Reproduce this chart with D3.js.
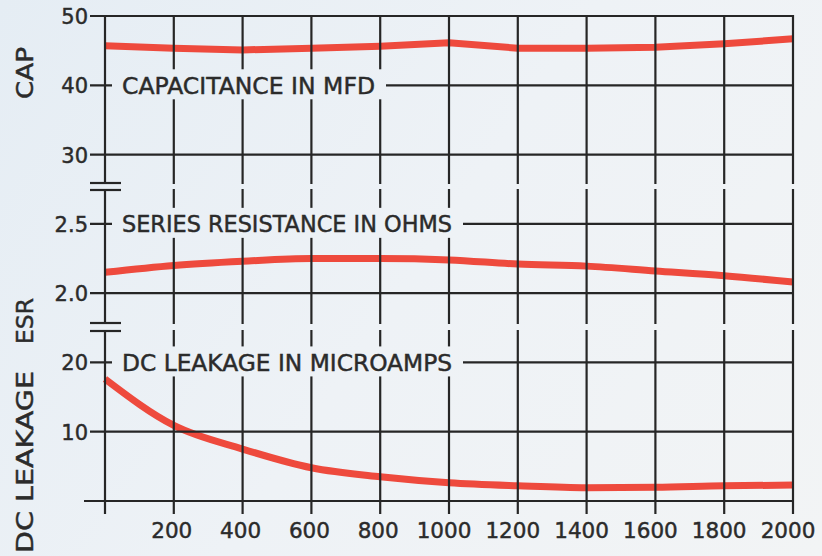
<!DOCTYPE html>
<html>
<head>
    <script src="https://cdnjs.cloudflare.com/ajax/libs/d3/7.8.5/d3.min.js"></script>
    <style>
        body {
            margin: 0;
            padding: 0;
            background: #eef2f6;
            overflow: hidden;
        }
        svg text {
            font-family: "DejaVu Sans", sans-serif;
            fill: #2b2b2b;
            stroke: #2b2b2b;
            stroke-width: 0.45px;
        }
    </style>
</head>
<body>
    <svg id="chart" width="822" height="556"></svg>

    <script>
        // frequency in cps (x)
        const xValues = [0, 200, 400, 600, 800, 1000, 1200, 1400, 1600, 1800, 2000];
        const xTickLabels = ["", "200", "400", "600", "800", "1000", "1200", "1400", "1600", "1800", "2000"];

        const capValues  = [45.7, 45.35, 45.1, 45.35, 45.65, 46.15, 45.35, 45.35, 45.5, 46.0, 46.7];
        const esrValues  = [2.15, 2.20, 2.23, 2.25, 2.25, 2.24, 2.21, 2.195, 2.16, 2.125, 2.08];
        const leakValues = [17.6, 10.9, 7.5, 4.8, 3.5, 2.64, 2.2, 1.92, 1.98, 2.2, 2.3];

        const capTicks  = [30, 40, 50];
        const esrTicks  = [2.0, 2.5];
        const leakTicks = [0, 10, 20];
        const capTickLabels  = ["30", "40", "50"];
        const esrTickLabels  = ["2.0", "2.5"];
        const leakTickLabels = ["", "10", "20"];

        const svg = d3.select("#chart");
        const W = 822, H = 556;

        // background with a faint blue tint in the upper left, like the scan
        const grad = svg.append("defs").append("linearGradient")
            .attr("id", "paper")
            .attr("gradientUnits", "userSpaceOnUse")
            .attr("x1", 0).attr("y1", 0).attr("x2", W).attr("y2", H);
        grad.append("stop").attr("offset", "0").attr("stop-color", "#e5edf4");
        grad.append("stop").attr("offset", "0.5").attr("stop-color", "#eef2f6");
        grad.append("stop").attr("offset", "1").attr("stop-color", "#f2f4f5");
        const paper = "url(#paper)";

        svg.append("rect").attr("width", W).attr("height", H).attr("fill", paper);

        const x = d3.scaleLinear().domain([0, 2000]).range([105, 793]);
        // seven equal grid rows from bottom to top
        const row = d3.scaleLinear().domain([0, 7]).range([501, 16]);

        const panels = [
            { title: "CAP", titleY: 73, titleLen: 52,
              y: d3.scaleLinear().domain([30, 50]).range([row(5), row(7)]),
              ticks: capTicks, tickLabels: capTickLabels, values: capValues,
              label: "CAPACITANCE IN MFD", labelAt: 40, labelLen: 253, curve: d3.curveLinear },
            { title: "ESR", titleY: 321, titleLen: 46,
              y: d3.scaleLinear().domain([2.0, 2.5]).range([row(3), row(4)]),
              ticks: esrTicks, tickLabels: esrTickLabels, values: esrValues,
              label: "SERIES RESISTANCE IN OHMS", labelAt: 2.5, labelLen: 330, curve: d3.curveMonotoneX },
            { title: "DC LEAKAGE", titleY: 462, titleLen: 182,
              y: d3.scaleLinear().domain([0, 20]).range([row(0), row(2)]),
              ticks: leakTicks, tickLabels: leakTickLabels, values: leakValues,
              label: "DC LEAKAGE IN MICROAMPS", labelAt: 20, labelLen: 330, curve: d3.curveMonotoneX }
        ];

        const ink = "#262626";
        const red = "#ee4a3d";

        // red curves (grid is printed over them)
        panels.forEach(p => {
            const line = d3.line()
                .x((d, i) => x(xValues[i]))
                .y(d => p.y(d))
                .curve(p.curve);
            svg.append("path")
                .datum(p.values)
                .attr("d", line)
                .attr("fill", "none")
                .attr("stroke", red)
                .attr("stroke-width", 7);
        });

        // horizontal grid lines with tick stubs on the left
        panels.forEach(p => {
            svg.append("g").selectAll("line")
                .data(p.ticks)
                .join("line")
                .attr("x1", d => (p.title === "DC LEAKAGE" && d === 0) ? 84 : 90)
                .attr("x2", 794)
                .attr("y1", d => p.y(d))
                .attr("y2", d => p.y(d))
                .attr("stroke", ink)
                .attr("stroke-width", 2.2);

            svg.append("g").selectAll("text")
                .data(p.ticks)
                .join("text")
                .attr("x", 88)
                .attr("y", d => p.y(d))
                .attr("dy", "0.38em")
                .attr("text-anchor", "end")
                .style("font-size", "21px")
                .text((d, i) => p.tickLabels[i]);
        });

        // vertical grid lines
        svg.append("g").selectAll("line")
            .data(xValues)
            .join("line")
            .attr("x1", d => x(d))
            .attr("x2", d => x(d))
            .attr("y1", 15)
            .attr("y2", 514)
            .attr("stroke", ink)
            .attr("stroke-width", 2.2);

        // x tick labels
        svg.append("g").selectAll("text")
            .data(xValues)
            .join("text")
            .attr("x", d => x(d))
            .attr("dx", (d, i) => xTickLabels[i].length > 3 ? -5 : -2)
            .attr("y", 538)
            .attr("text-anchor", "middle")
            .style("font-size", "21.5px")
            .text((d, i) => xTickLabels[i]);

        // inline series labels, knocked out of the grid
        panels.forEach(p => {
            const yy = p.y(p.labelAt);
            svg.append("rect")
                .attr("x", 112)
                .attr("y", yy - 16)
                .attr("width", p.labelLen + 10 + 11)
                .attr("height", 30)
                .attr("fill", paper);
            svg.append("text")
                .attr("x", 122)
                .attr("y", yy + 8.5)
                .attr("textLength", p.labelLen)
                .attr("lengthAdjust", "spacingAndGlyphs")
                .style("font-size", "22.5px")
                .text(p.label);
        });

        // rotated panel titles
        panels.forEach(p => {
            svg.append("text")
                .attr("transform", `translate(33,${p.titleY}) rotate(-90)`)
                .attr("text-anchor", "middle")
                .attr("textLength", p.titleLen)
                .attr("lengthAdjust", "spacingAndGlyphs")
                .style("font-size", "23.5px")
                .text(p.title);
        });

        // scale breaks between the panels
        const breaks = [[183, 190], [323, 331]];
        breaks.forEach(([a, b]) => {
            svg.append("rect")
                .attr("x", 100).attr("width", 700)
                .attr("y", a + 1).attr("height", b - a - 2)
                .attr("fill", paper);
            [a, b].forEach(yy => {
                svg.append("line")
                    .attr("x1", 90).attr("x2", 121)
                    .attr("y1", yy).attr("y2", yy)
                    .attr("stroke", ink)
                    .attr("stroke-width", 2.2);
            });
        });
    </script>
</body>
</html>
